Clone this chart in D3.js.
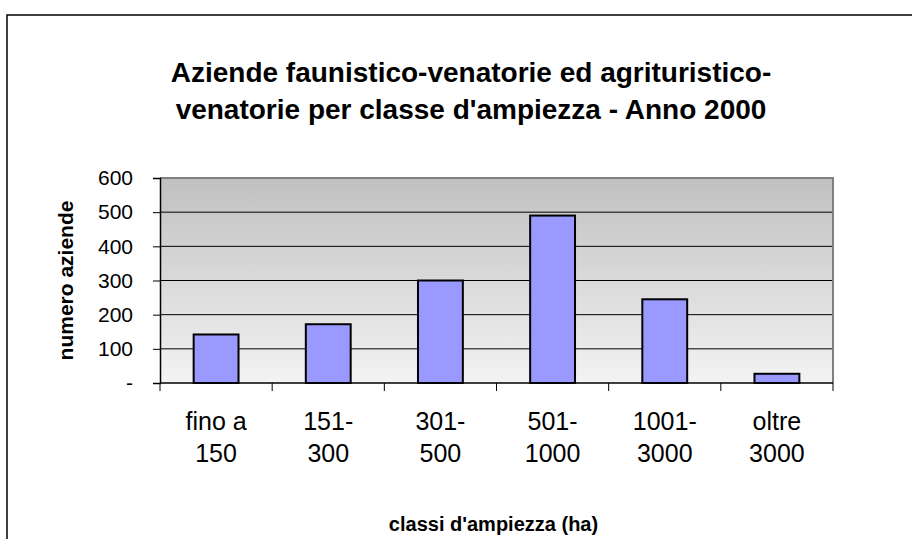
<!DOCTYPE html>
<html>
<head>
<meta charset="utf-8">
<script src="https://cdn.jsdelivr.net/npm/d3@7"></script>
<style>
  body { margin: 0; background: #fff; }
  svg { display: block; }
</style>
</head>
<body>
<script>
const canvWidth = 912, canvHeight = 539;
const margin = {top: 178, right: 79, bottom: 156, left: 160};

// data
const categories = [["fino a", "150"], ["151-", "300"], ["301-", "500"], ["501-", "1000"], ["1001-", "3000"], ["oltre", "3000"]];
const values = [142, 172, 300, 490, 245, 27];
const yTicks = [0, 100, 200, 300, 400, 500, 600];
const titleLines = ["Aziende faunistico-venatorie ed agrituristico-", "venatorie per classe d'ampiezza - Anno 2000"];

const svg = d3.select("body").append("svg")
    .attr("width", canvWidth)
    .attr("height", canvHeight)
    .style("font-family", "Arial, 'Liberation Sans', sans-serif");

// outer chart border (runs off the right and bottom)
svg.append("rect")
    .attr("x", 7).attr("y", 15)
    .attr("width", 940).attr("height", 600)
    .attr("fill", "none")
    .attr("stroke", "#000")
    .attr("stroke-width", 1.5);

const width = canvWidth - margin.left - margin.right;
const height = canvHeight - margin.top - margin.bottom;

const g = svg.append("g")
    .attr("transform", `translate(${margin.left},${margin.top})`);

const keys = categories.map(d => d.join(" "));

const xScale = d3.scaleBand().range([0, width]).paddingInner(0.6).paddingOuter(0.3)
    .domain(keys);
const xBand = d3.scaleBand().range([0, width]).domain(keys);

const yScale = d3.scaleLinear().range([height, 0]).domain([0, 600]);

// gradient plot background
const grad = svg.append("defs").append("linearGradient")
    .attr("id", "bg").attr("x1", 0).attr("y1", 0).attr("x2", 0).attr("y2", 1);
grad.append("stop").attr("offset", "0%").attr("stop-color", "#c0c0c0");
grad.append("stop").attr("offset", "100%").attr("stop-color", "#f3f3f3");

g.append("rect")
    .attr("width", width).attr("height", height)
    .attr("fill", "url(#bg)");

// gridlines
g.selectAll("line.grid")
    .data(yTicks.filter(d => d > 0 && d < 600))
    .enter().append("line")
    .attr("class", "grid")
    .attr("x1", 0).attr("x2", width)
    .attr("y1", d => yScale(d)).attr("y2", d => yScale(d))
    .attr("stroke", "#000")
    .attr("stroke-width", 1);

// plot frame top/right
g.append("path")
    .attr("d", `M0,0H${width}V${height}`)
    .attr("fill", "none")
    .attr("stroke", "#808080")
    .attr("stroke-width", 2);

// bars
g.selectAll("rect.bar")
    .data(values)
    .enter().append("rect")
    .attr("class", "bar")
    .attr("x", (d, i) => xScale(keys[i]))
    .attr("y", d => yScale(d))
    .attr("width", xScale.bandwidth())
    .attr("height", d => height - yScale(d))
    .attr("fill", "#9999ff")
    .attr("stroke", "#000")
    .attr("stroke-width", 2);

// y axis
const yAxis = d3.axisLeft(yScale).tickValues(yTicks).tickSize(7).tickPadding(20)
    .tickFormat(d => d === 0 ? "-" : d);
const ya = g.append("g").call(yAxis);
ya.select(".domain").attr("stroke", "#000").attr("stroke-width", 1.5);
ya.selectAll(".tick line").attr("stroke", "#000");
ya.selectAll(".tick text")
    .attr("font-size", "21px")
    .attr("font-family", "Arial, 'Liberation Sans', sans-serif")
    .attr("fill", "#000")
    .attr("x", -27);

// x axis: ticks at category boundaries
const bounds = keys.map(k => xBand(k)).concat([width]);
const xa = g.append("g").attr("transform", `translate(0,${height})`);
xa.append("line").attr("x1", 0).attr("x2", width)
    .attr("stroke", "#000").attr("stroke-width", 1.5);
xa.selectAll("line.tk")
    .data(bounds)
    .enter().append("line")
    .attr("class", "tk")
    .attr("x1", d => d).attr("x2", d => d)
    .attr("y1", 0).attr("y2", 8)
    .attr("stroke", "#000");

const xl = xa.selectAll("text.cat")
    .data(categories)
    .enter().append("text")
    .attr("class", "cat")
    .attr("x", (d, i) => xBand(keys[i]) + xBand.bandwidth() / 2)
    .attr("y", 47)
    .attr("text-anchor", "middle")
    .attr("font-size", "25px")
    .attr("fill", "#000");
xl.append("tspan").text(d => d[0]);
xl.append("tspan")
    .attr("x", (d, i) => xBand(keys[i]) + xBand.bandwidth() / 2)
    .attr("dy", 32)
    .text(d => d[1]);

// axis titles
svg.append("text")
    .attr("transform", `translate(73,${margin.top + height / 2}) rotate(-90)`)
    .attr("text-anchor", "middle")
    .attr("font-size", "21px")
    .attr("font-weight", "bold")
    .text("numero aziende");

svg.append("text")
    .attr("x", margin.left + width / 2 - 3)
    .attr("y", 531)
    .attr("text-anchor", "middle")
    .attr("font-size", "20px")
    .attr("font-weight", "bold")
    .text("classi d'ampiezza (ha)");

// title
svg.append("text")
    .attr("x", 471)
    .attr("y", 82)
    .attr("text-anchor", "middle")
    .attr("font-size", "28px")
    .attr("font-weight", "bold")
    .selectAll("tspan")
    .data(titleLines)
    .enter().append("tspan")
    .attr("x", 471)
    .attr("dy", (d, i) => i === 0 ? 0 : 37)
    .text(d => d);
</script>
</body>
</html>
